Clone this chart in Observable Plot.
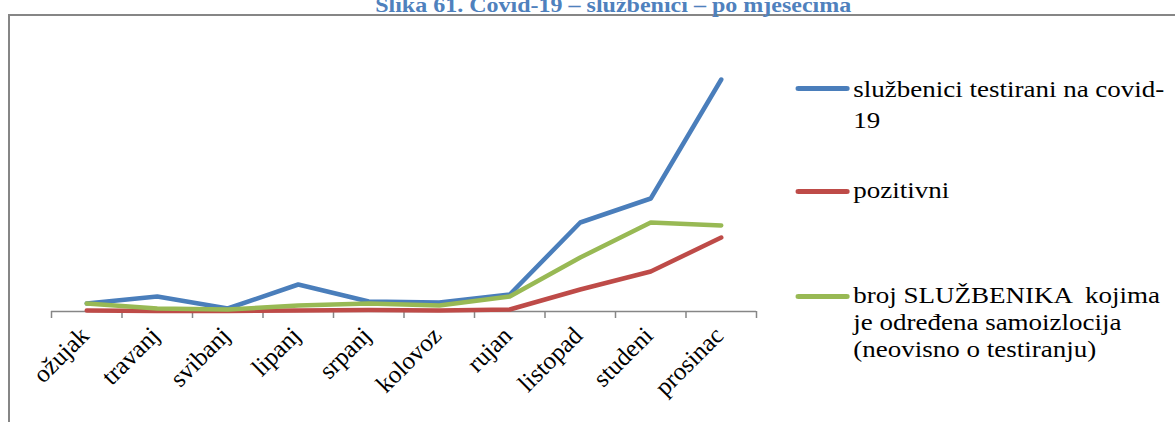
<!DOCTYPE html>
<html><head><meta charset="utf-8">
<script src="https://cdn.jsdelivr.net/npm/d3@7"></script>
<script src="https://cdn.jsdelivr.net/npm/@observablehq/plot@0.6"></script>
<style>
html,body{margin:0;padding:0;background:#fff;overflow:hidden}
#page{position:relative;width:1175px;height:422px;overflow:hidden;background:#fff;font-family:"Liberation Serif","Times New Roman",serif}
#frame{position:absolute;left:8px;top:14px;width:2000px;height:1000px;border-left:2px solid #868686;border-top:2px solid #868686;box-sizing:border-box}
#chart{position:absolute;left:0;top:0}
#inner{position:absolute;left:0;top:0;width:979px;height:422px;transform:scaleX(1.2);transform-origin:0 0}
#title{position:absolute;left:0;width:1022px;top:-5px;text-align:center;font-weight:bold;font-size:20px;line-height:20px;color:#4f81bd;white-space:nowrap}
.sw{position:absolute;left:662.5px;width:45.5px;height:4.5px;border-radius:2.25px}
.lt{position:absolute;left:711px;font-size:22.5px;white-space:pre;color:#000}
</style></head>
<body>
<div id="page">
<div id="frame"></div>
<div id="chart"></div>
<div id="inner">
<div id="title"></div>
<div id="legend"></div>
</div></div>
<script>
const title = "Slika 61. Covid-19 – službenici – po mjesecima";
const months = ["ožujak","travanj","svibanj","lipanj","srpanj","kolovoz","rujan","listopad","studeni","prosinac"];
const seriesNames = ["službenici testirani na covid-19", "pozitivni", "broj SLUŽBENIKA  kojima je određena samoizlocija (neovisno o testiranju)"];
const legendLines = [["službenici testirani na covid-", "19"], ["pozitivni"], ["broj SLUŽBENIKA  kojima", "je određena samoizlocija", "(neovisno o testiranju)"]];
const tested   = [8, 15, 3, 27, 10, 9, 17, 89, 113, 232];
const positive = [1, 0.5, 0.5, 1, 1.5, 1, 2, 22, 40, 74];
const isolated = [8, 3, 2, 6, 8, 6, 15, 54, 89, 86];
const colors = ["#4a7ebb", "#be4b48", "#98b954"];

document.getElementById("title").textContent = title;

const seriesValues = [tested, positive, isolated];
const rows = [];
seriesValues.forEach((vals, s) => vals.forEach((v, i) => rows.push({series: seriesNames[s], month: months[i], x: i + 0.5, value: v})));

const chart = Plot.plot({
  width: 1175, height: 422,
  marginLeft: 51, marginRight: 419, marginTop: 79, marginBottom: 111,
  style: {fontFamily: "Liberation Serif, Times New Roman, serif", background: "transparent", overflow: "visible", color: "#000"},
  x: {domain: [0, 10]},
  y: {domain: [0, 232], axis: null},
  color: {domain: seriesNames, range: colors},
  marks: [
    Plot.ruleY([0], {stroke: "#868686", strokeWidth: 1.5}),
    Plot.axisX({ticks: d3.range(0, 11), tickSize: 7, tickFormat: () => "", stroke: "#868686", strokeWidth: 1.5, label: null}),
    ...seriesNames.map(name => Plot.line(rows.filter(r => r.series === name), {x: "x", y: "value", stroke: "series", strokeWidth: 4.5, strokeLinejoin: "round", strokeLinecap: "round"})),
    Plot.text(months, {x: (d, i) => i + 0.5, y: () => 0, text: d => d, rotate: -45, textAnchor: "end", lineAnchor: "middle", dx: -2, dy: 20, fontSize: 25, fill: "#000"})
  ]
});
document.getElementById("chart").appendChild(chart);

// legend
const swY = [88.3, 191.7, 296.7];
const textTop = [73.9, 176.9, 281.9];
const lineH = [31, 27, 27];
const leg = document.getElementById("legend");
seriesNames.forEach((name, s) => {
  const sw = document.createElement("div");
  sw.className = "sw";
  sw.style.top = (swY[s] - 2.25) + "px";
  sw.style.background = colors[s];
  leg.appendChild(sw);
  const t = document.createElement("div");
  t.className = "lt";
  t.style.top = textTop[s] + "px";
  t.style.lineHeight = lineH[s] + "px";
  t.textContent = legendLines[s].join("\n");
  leg.appendChild(t);
});
</script>
</body></html>
